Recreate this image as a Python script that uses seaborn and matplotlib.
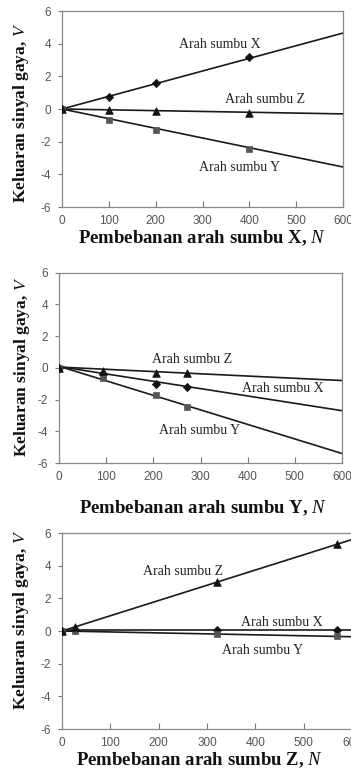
import numpy as np
import pandas as pd
import matplotlib
matplotlib.use("Agg")
import matplotlib.pyplot as plt
import seaborn as sns

sns.set_theme(style="white")
plt.rcParams['font.family'] = ['Liberation Sans', 'DejaVu Sans']
plt.rcParams['mathtext.fontset'] = 'custom'
plt.rcParams['mathtext.it'] = 'Liberation Serif:italic'
plt.rcParams['mathtext.rm'] = 'Liberation Serif'
plt.rcParams['mathtext.bf'] = 'Liberation Serif:bold'

# ---------------- data ----------------
series_names = ["Arah sumbu X", "Arah sumbu Y", "Arah sumbu Z"]
x_ticks = [0, 100, 200, 300, 400, 500, 600]
y_ticks = [-6, -4, -2, 0, 2, 4, 6]

# Panel 1: load along X
p1_load = [0, 100, 200, 400]
p1_X = [0.0, 0.75, 1.6, 3.2]
p1_Y = [0.0, -0.65, -1.3, -2.45]
p1_Z = [0.0, -0.05, -0.1, -0.25]
p1_fit_load = [0, 600]
p1_fit_X = [0.0, 4.65]
p1_fit_Y = [0.0, -3.55]
p1_fit_Z = [0.0, -0.3]

# Panel 2: load along Y
p2_load = [0, 93, 205, 272]
p2_X = [0.0, -0.4, -1.0, -1.2]
p2_Y = [0.0, -0.65, -1.7, -2.45]
p2_Z = [0.0, -0.2, -0.35, -0.35]
p2_fit_load = [0, 600]
p2_fit_X = [0.08, -2.7]
p2_fit_Y = [0.1, -5.4]
p2_fit_Z = [0.05, -0.8]

# Panel 3: load along Z
p3_load = [0, 27, 320, 568]
p3_X = [0.0, 0.05, 0.05, 0.05]
p3_Y = [0.0, 0.0, -0.2, -0.3]
p3_Z = [0.0, 0.25, 3.0, 5.3]
p3_fit_load = [0, 600]
p3_fit_X = [0.05, 0.05]
p3_fit_Y = [0.0, -0.35]
p3_fit_Z = [0.0, 5.6]

xlabels = ["Pembebanan arah sumbu X, $\\mathit{N}$",
           "Pembebanan arah sumbu Y, $\\mathit{N}$",
           "Pembebanan arah sumbu Z, $\\mathit{N}$"]
ylabel = "Keluaran sinyal gaya, $\\mathit{V}$"

# annotation positions (data coords)
p1_ann = {"Arah sumbu X": (337, 3.92), "Arah sumbu Z": (433, 0.61), "Arah sumbu Y": (380, -3.61)}
p2_ann = {"Arah sumbu Z": (283, 0.5), "Arah sumbu X": (474, -1.29), "Arah sumbu Y": (299, -3.92)}
p3_ann = {"Arah sumbu Z": (250, 3.63), "Arah sumbu X": (454, 0.53), "Arah sumbu Y": (414, -1.2)}

panels = [
    (p1_load, p1_X, p1_Y, p1_Z, p1_fit_load, p1_fit_X, p1_fit_Y, p1_fit_Z, p1_ann),
    (p2_load, p2_X, p2_Y, p2_Z, p2_fit_load, p2_fit_X, p2_fit_Y, p2_fit_Z, p2_ann),
    (p3_load, p3_X, p3_Y, p3_Z, p3_fit_load, p3_fit_X, p3_fit_Y, p3_fit_Z, p3_ann),
]

# ---------------- layout (pixels) ----------------
W, H = 351, 769
fig = plt.figure(figsize=(W / 100, H / 100), dpi=100)
fig.patch.set_facecolor("white")

ax_px = [  # left, top, right, bottom
    (62, 11, 343, 207),
    (59, 272.7, 342, 463),
    (62, 533, 352, 729),
]
xlabel_px = [(202, 238), (203, 508), (200, 760)]
ylabel_px = [(21, 113), (22, 367), (21, 620)]

markers = {"Arah sumbu X": "D", "Arah sumbu Y": "s", "Arah sumbu Z": "^"}
msizes = {"Arah sumbu X": 18, "Arah sumbu Y": 24, "Arah sumbu Z": 30}
mcolors = {"Arah sumbu X": "#111111", "Arah sumbu Y": "#555555", "Arah sumbu Z": "#111111"}

serif = ['Liberation Serif', 'DejaVu Serif']

for i, (load, X, Y, Z, fl, fX, fY, fZ, ann) in enumerate(panels):
    l, t, r, b = ax_px[i]
    ax = fig.add_axes([l / W, 1 - b / H, (r - l) / W, (b - t) / H])
    ax.set_facecolor("white")

    pts = pd.DataFrame({
        "load": load * 3,
        "val": X + Y + Z,
        "series": [series_names[0]] * len(load) + [series_names[1]] * len(load) + [series_names[2]] * len(load),
    })
    fit = pd.DataFrame({
        "load": fl * 3,
        "val": fX + fY + fZ,
        "series": [series_names[0]] * len(fl) + [series_names[1]] * len(fl) + [series_names[2]] * len(fl),
    })
    sns.lineplot(data=fit, x="load", y="val", units="series", estimator=None,
                 color="#1a1a1a", linewidth=1.2, ax=ax, legend=False, sort=False)
    for s in series_names:
        sub = pts[pts["series"] == s]
        sns.scatterplot(data=sub, x="load", y="val", marker=markers[s], s=msizes[s],
                        color=mcolors[s], edgecolor=mcolors[s], linewidth=0.5,
                        ax=ax, legend=False, zorder=5)

    for name, (ax_x, ax_y) in ann.items():
        ax.text(ax_x, ax_y, name, ha="center", va="center", fontsize=10,
                family=serif, color="#222222")

    ax.set_xlim(0, 600)
    ax.set_ylim(-6, 6)
    ax.set_xticks(x_ticks)
    ax.set_yticks(y_ticks)
    ax.set_xticklabels([str(v) for v in x_ticks])
    ax.set_yticklabels([str(v) for v in y_ticks])
    ax.set_xlabel("")
    ax.set_ylabel("")
    ax.tick_params(axis="x", direction="in", length=4, width=0.8, color="#777777",
                   labelsize=8.5, labelcolor="#555555", pad=6)
    ax.tick_params(axis="y", direction="out", length=3, width=0.8, color="#777777",
                   labelsize=8.5, labelcolor="#555555", pad=5)
    ax.tick_params(bottom=True, left=True)
    for sp in ax.spines.values():
        sp.set_color("#888888")
        sp.set_linewidth(0.9)
    ax.grid(False)

    xx, yy = xlabel_px[i]
    fig.text(xx / W, 1 - yy / H, xlabels[i], ha="center", va="center",
             fontsize=13.5, fontweight="bold", family=serif, color="#111111")
    xx, yy = ylabel_px[i]
    fig.text(xx / W, 1 - yy / H, ylabel, ha="center", va="center", rotation=90,
             fontsize=12.5, fontweight="bold", family=serif, color="#111111")

fig.savefig("out.png", dpi=100, facecolor="white")
